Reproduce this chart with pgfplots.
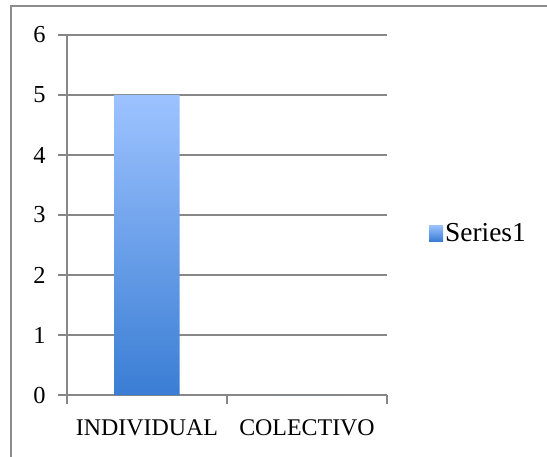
\documentclass[border=0pt]{standalone}
\usepackage{fontspec}
\setmainfont{Liberation Serif}
\usepackage{pgfplots}
\pgfplotsset{compat=1.18}
\definecolor{gridc}{RGB}{135,135,135}
\definecolor{framec}{RGB}{140,140,140}
\definecolor{bartop}{RGB}{157,195,255}
\definecolor{barbot}{RGB}{58,125,212}
\begin{document}
\begin{tikzpicture}[x=1bp,y=1bp]
\path[use as bounding box] (0,0) rectangle (547,-457);
\draw[framec, line width=1.2bp] (11,-458) -- (11,-6) -- (548,-6);
\begin{axis}[
  at={(67bp,-395bp)}, anchor=south west,
  width=320bp, height=360bp, scale only axis,
  xmin=0, xmax=2, ymin=0, ymax=6,
  axis x line*=bottom, axis y line*=left,
  axis line style={gridc, line width=1.2bp, -},
  ytick={0,1,2,3,4,5,6},
  ymajorgrids, grid style={gridc, line width=1.2bp},
  xtick={0,1,2}, xticklabels={},
  extra x ticks={0.5,1.5},
  extra x tick labels={INDIVIDUAL,COLECTIVO},
  extra x tick style={major tick length=0pt, grid=none,
    x tick label style={yshift=-21bp}},
  tick align=outside,
  xtick style={gridc, line width=1.2bp},
  ytick style={gridc, line width=1.2bp},
  x tick label style={font=\fontsize{24}{27}\selectfont},
  y tick label style={font=\fontsize{24.5}{27}\selectfont, xshift=-9bp},
  major tick length=9bp,
  /pgf/number format/assume math mode=true,
  legend style={at={(1.131,0.45)}, anchor=west, draw=none, fill=none,
    font=\fontsize{27.5}{30}\selectfont, inner sep=0pt},
  legend image code/.code={\shade[top color=bartop,bottom color=barbot] (0bp,-8bp) rectangle (14bp,8bp);},
  clip=false,
]
\addplot[ybar, bar width=65bp, draw=none, top color=bartop, bottom color=barbot] coordinates {(0.5,5) (1.5,0)};
\addlegendentry{Series1}
\end{axis}
\end{tikzpicture}
\end{document}
